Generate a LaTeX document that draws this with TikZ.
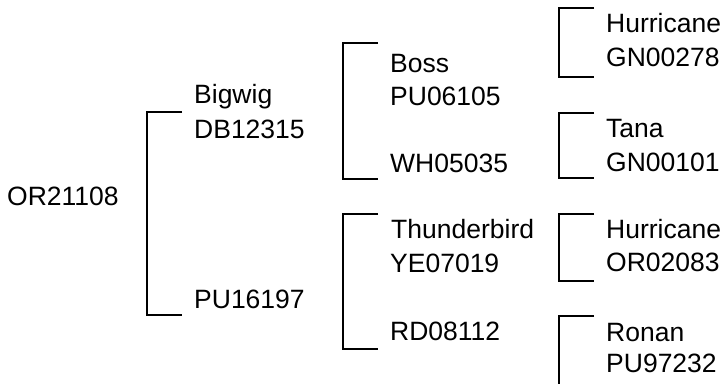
\documentclass[tikz,border=0pt]{standalone}
\usepackage{fontspec}
\setmainfont{Liberation Sans}
\usepackage{tikz}
\usetikzlibrary{calc}
\newcommand{\linecolor}{black}
\newcommand{\bracketwidth}{2pt}
\newcommand{\stub}{35}

\begin{document}
\begin{tikzpicture}[x=1pt,y=-1pt]
\tikzset{animal/.style={anchor=base west,inner sep=0pt,font=\fontsize{26.5}{30}\selectfont}}
\useasboundingbox (0,0) rectangle (728,383);
%generation 0
\node[animal] (or21108) at (7, 205) {OR21108};
%generation 1
\node[animal] (bigwig) at (194, 103) {Bigwig};
\node[animal] (bigwigid) at (194, 138) {DB12315};
\node[animal] (pu16197) at (194, 308) {PU16197};
%generation 2
\node[animal] (boss) at (390, 72) {Boss};
\node[animal] (bossid) at (390, 105) {PU06105};
\node[animal] (wh05035) at (390, 172) {WH05035};
\node[animal] (thunderbird) at (391, 238) {Thunderbird};
\node[animal] (thunderbirdid) at (390, 272) {YE07019};
\node[animal] (rd08112) at (390, 340) {RD08112};
%generation 3
\node[animal] (hurricane) at (606, 32) {Hurricane};
\node[animal] (hurricaneid) at (606, 66) {GN00278};
\node[animal] (tana) at (606, 137) {Tana};
\node[animal] (tanaid) at (606, 171) {GN00101};
\node[animal] (hurricanetwo) at (606, 238) {Hurricane};
\node[animal] (hurricanetwoid) at (606, 271) {OR02083};
\node[animal] (ronan) at (606, 341) {Ronan};
\node[animal] (ronanid) at (606, 372) {PU97232};
%bracket ends
\coordinate (sire1) at (182, 112);
\coordinate (dam1) at (182, 315);
\coordinate (sire2) at (378, 43);
\coordinate (dam2) at (378, 179);
\coordinate (sire3) at (378, 214);
\coordinate (dam3) at (378, 349);
\coordinate (sire4) at (594, 8);
\coordinate (dam4) at (594, 77);
\coordinate (sire5) at (594, 113);
\coordinate (dam5) at (594, 178);
\coordinate (sire6) at (594, 214);
\coordinate (dam6) at (594, 281);
\coordinate (sire7) at (594, 316);
\coordinate (dam7) at (559, 385);
%brackets
\draw[\linecolor] [line width = \bracketwidth] (sire1) -- ++(-\stub,0) |- (dam1);
\draw[\linecolor] [line width = \bracketwidth] (sire2) -- ++(-\stub,0) |- (dam2);
\draw[\linecolor] [line width = \bracketwidth] (sire3) -- ++(-\stub,0) |- (dam3);
\draw[\linecolor] [line width = \bracketwidth] (sire4) -- ++(-\stub,0) |- (dam4);
\draw[\linecolor] [line width = \bracketwidth] (sire5) -- ++(-\stub,0) |- (dam5);
\draw[\linecolor] [line width = \bracketwidth] (sire6) -- ++(-\stub,0) |- (dam6);
\draw[\linecolor] [line width = \bracketwidth] (sire7) -- ++(-\stub,0) -- (dam7);
\end{tikzpicture}
\end{document}
